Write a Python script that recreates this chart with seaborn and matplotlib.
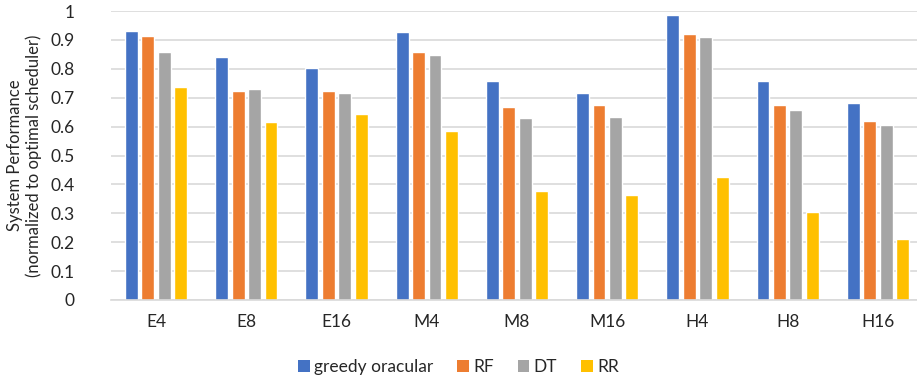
import pandas as pd
import seaborn as sns
import matplotlib.pyplot as plt
from matplotlib.patches import Patch

# data
categories = ['E4', 'E8', 'E16', 'M4', 'M8', 'M16', 'H4', 'H8', 'H16']
series = ['greedy oracular', 'RF', 'DT', 'RR']
greedy_oracular = [0.932, 0.842, 0.804, 0.926, 0.757, 0.717, 0.986, 0.758, 0.682]
rf = [0.912, 0.722, 0.724, 0.857, 0.667, 0.675, 0.921, 0.674, 0.618]
dt = [0.859, 0.731, 0.715, 0.848, 0.629, 0.632, 0.909, 0.657, 0.604]
rr = [0.738, 0.615, 0.643, 0.584, 0.376, 0.363, 0.426, 0.304, 0.212]
colors = ['#4472C4', '#ED7D31', '#A5A5A5', '#FFC000']

rows = []
for name, vals in zip(series, [greedy_oracular, rf, dt, rr]):
    for cat, v in zip(categories, vals):
        rows.append({'config': cat, 'scheduler': name, 'perf': v})
df = pd.DataFrame(rows)

sns.set_style('white')
plt.rcParams['font.family'] = ['Lato', 'DejaVu Sans']

fig = plt.figure(figsize=(9.17, 3.77), dpi=100)
ax = fig.add_axes([111 / 917, 1 - 300 / 377, 812 / 917, 289 / 377])

sns.barplot(
    data=df, x='config', y='perf', hue='scheduler',
    order=categories, hue_order=series, palette=colors,
    width=0.73, gap=0.22, saturation=1, legend=False, ax=ax
)

ax.set_xlim(-0.5, len(categories) - 0.5)
ax.set_ylim(0, 1)
ax.set_yticks([i / 10 for i in range(11)])
ax.set_yticklabels(['0'] + [f'{i / 10:.1f}' for i in range(1, 10)] + ['1'])
ax.yaxis.grid(True, color='#D9D9D9', linewidth=1.2)
ax.set_axisbelow(True)
for s in ['top', 'right', 'left']:
    ax.spines[s].set_visible(False)
ax.spines['bottom'].set_color('#D9D9D9')
ax.spines['bottom'].set_linewidth(1.2)
ax.tick_params(axis='both', length=0, labelsize=12.5, colors='#262626')
ax.tick_params(axis='x', pad=10)
ax.tick_params(axis='y', pad=26)
ax.set_xlabel('')
ax.set_ylabel('System Performance\n(normalized to optimal scheduler)',
              fontsize=12, color='#262626', labelpad=6)

handles = [Patch(facecolor=c, edgecolor='none') for c in colors]
fig.legend(handles, series, loc='center', bbox_to_anchor=(0.5, 1 - 367 / 377),
           ncol=4, frameon=False, fontsize=12.5, handlelength=0.65,
           handleheight=0.65, handletextpad=0.25, columnspacing=1.4,
           labelcolor='#262626')

fig.savefig('out.png', dpi=100)
